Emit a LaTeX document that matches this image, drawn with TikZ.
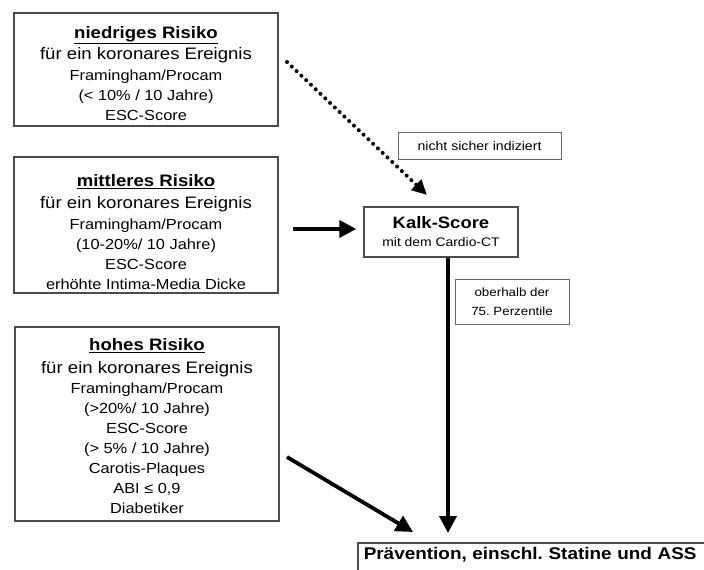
\documentclass[tikz,border=0pt]{standalone}
\usepackage{fontspec}
\setmainfont{Liberation Sans}[FakeStretch=1.12]
\usetikzlibrary{arrows.meta}
\frenchspacing
\newcommand\hdline[2]{{\fontsize{16.6}{20}\selectfont\bfseries\rule{0pt}{#1}\underline{#2}}}
\newcommand\fbig{\fontsize{16.6}{20}\selectfont}
\newcommand\fsmall{\fontsize{14.6}{20}\selectfont}
\begin{document}
\begin{tikzpicture}[x=1pt,y=-1pt,
  box/.style={draw=black!70, line width=1.5pt, align=center, inner sep=0pt, font=\fsmall},
  lab/.style={draw=black!60, line width=1pt, align=center, inner sep=0pt},
  arr/.style={line width=3.8pt, -{Triangle[length=17pt,width=17pt]}},
  dotted arrow/.style={line width=4pt, line cap=round, dash pattern=on 0pt off 6.6pt, -{Triangle[length=15pt,width=14pt]}}]
\clip (0,0) rectangle (704,570);
\fill[white] (0,0) rectangle (704,570);

\node[box, minimum width=264pt, minimum height=113pt] (low) at (146,69.5)
  {\hdline{20pt}{niedriges Risiko}\\[1pt]{\fbig für ein koronares Ereignis}\\[1.5pt]Framingham/Procam\\(< 10\% / 10 Jahre)\\ESC-Score};

\node[box, minimum width=264pt, minimum height=136pt] (mid) at (146,225)
  {\hdline{26pt}{mittleres Risiko}\\[2pt]{\fbig für ein koronares Ereignis}\\[1.5pt]Framingham/Procam\\(10-20\%/ 10 Jahre)\\ESC-Score\\erhöhte Intima-Media Dicke};

\node[box, minimum width=264pt, minimum height=194pt] (high) at (147,424)
  {\hdline{16pt}{hohes Risiko}\\[2.5pt]{\fbig für ein koronares Ereignis}\\Framingham/Procam\\(>20\%/ 10 Jahre)\\ESC-Score\\(> 5\% / 10 Jahre)\\Carotis-Plaques\\ABI ≤ 0,9\\Diabetiker};

\node[box, minimum width=154pt, minimum height=50pt] (kalk) at (441,232)
  {{\fontsize{16.5}{17}\selectfont\bfseries Kalk-Score}\\[-2pt]{\fontsize{12.4}{14}\selectfont mit dem Cardio-CT}};

\node[lab, minimum width=163pt, minimum height=27pt, font=\fontsize{12.6}{14}\selectfont] (nsi) at (479.5,145.5) {nicht sicher indiziert};

\node[lab, minimum width=114pt, minimum height=45pt, font=\fontsize{11.9}{19.5}\selectfont] (ob) at (512,301.5) {oberhalb der\\75. Perzentile};

\node[draw=black!70, line width=1.5pt, anchor=north west, inner xsep=6pt, inner ysep=4pt,
  text width=360pt, align=left, text depth=20pt, font=\fontsize{16.9}{20}\selectfont\bfseries]
  (prev) at (357,542) {Prävention, einschl. Statine und ASS};

\coordinate (d0) at (287,62);
\coordinate (d1) at (427,195);
\draw[dotted arrow] (d0) -- (d1);

\coordinate (h0) at (293,229);
\draw[arr, shorten >=7pt] (h0) -- (h0 -| kalk.west);

\coordinate (vx) at (448,0);
\draw[arr, shorten >=9pt] (vx |- kalk.south) -- (vx |- prev.north);

\coordinate (g0) at (287,457);
\coordinate (g1) at (413,532);
\draw[arr] (g0) -- (g1);
\end{tikzpicture}
\end{document}
